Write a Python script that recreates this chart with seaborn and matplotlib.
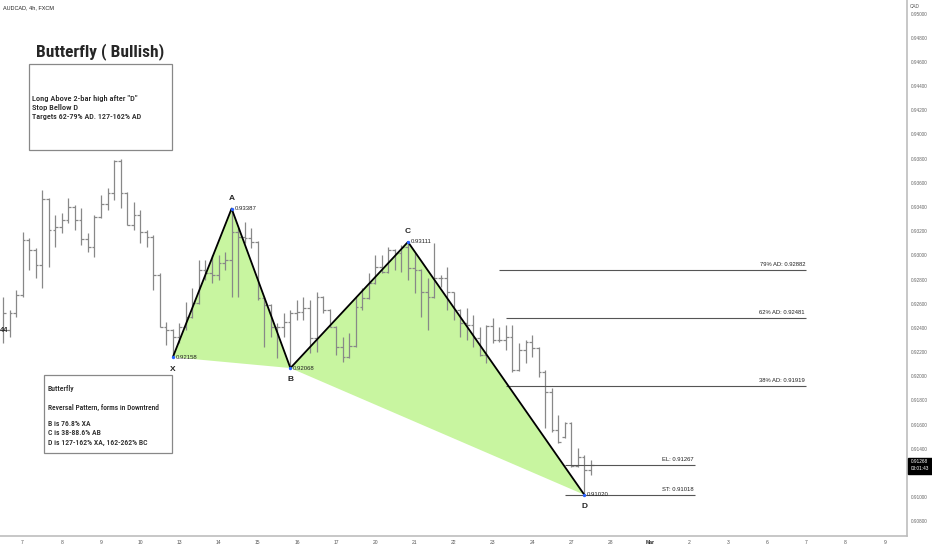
import os
import matplotlib
matplotlib.use('Agg')
import matplotlib.pyplot as plt
import matplotlib.font_manager as fm
from matplotlib.patches import Rectangle
import numpy as np
import seaborn as sns

# ---- data (AUDCAD 4h) ----
bar_open = [0.92383, 0.92383, 0.92524, 0.92672, 0.93127, 0.93045, 0.92920, 0.93466, 0.93210, 0.93235,
            0.93293, 0.93400, 0.93293, 0.93135, 0.93069, 0.93317, 0.93425, 0.93516, 0.93781, 0.93516,
            0.93251, 0.93334, 0.93193, 0.93152, 0.92838, 0.92408, 0.92383, 0.92325, 0.92408, 0.92490,
            0.92606, 0.92879, 0.92854, 0.92838, 0.92937, 0.92962, 0.93193, 0.93152, 0.93144, 0.93110,
            0.92647, 0.92590, 0.92408, 0.92408, 0.92449, 0.92524, 0.92532, 0.92565, 0.92317, 0.92656,
            0.92548, 0.92408, 0.92242, 0.92160, 0.92251, 0.92573, 0.92647, 0.92771, 0.92904, 0.92863,
            0.93045, 0.93020, 0.93069, 0.92896, 0.92879, 0.92697, 0.92656, 0.92813, 0.92813, 0.92697,
            0.92548, 0.92441, 0.92424, 0.92317, 0.92176, 0.92416, 0.92300, 0.92300, 0.92325, 0.92053,
            0.92217, 0.92284, 0.92234, 0.92036, 0.91870, 0.91556, 0.91498, 0.91614, 0.91258, 0.91333,
            0.91225]
bar_high = [0.92656, 0.92548, 0.92714, 0.93193, 0.93144, 0.93061, 0.93541, 0.93475, 0.93334, 0.93351,
            0.93475, 0.93417, 0.93392, 0.93185, 0.93334, 0.93499, 0.93557, 0.93789, 0.93797, 0.93520,
            0.93441, 0.93375, 0.93210, 0.93168, 0.92854, 0.92449, 0.92391, 0.92441, 0.92614, 0.92730,
            0.92962, 0.92962, 0.93003, 0.93003, 0.93028, 0.93387, 0.93226, 0.93276, 0.93226, 0.93120,
            0.92655, 0.92600, 0.92441, 0.92524, 0.92548, 0.92631, 0.92656, 0.92631, 0.92697, 0.92660,
            0.92555, 0.92415, 0.92325, 0.92358, 0.92656, 0.92730, 0.92854, 0.93003, 0.93003, 0.93069,
            0.93050, 0.93086, 0.93111, 0.93020, 0.92885, 0.92813, 0.93102, 0.92838, 0.92904, 0.92700,
            0.92555, 0.92565, 0.92507, 0.92408, 0.92424, 0.92482, 0.92408, 0.92424, 0.92424, 0.92275,
            0.92300, 0.92342, 0.92242, 0.92053, 0.91903, 0.91680, 0.91622, 0.91622, 0.91407, 0.91349,
            0.91308]
bar_low = [0.92275, 0.92325, 0.92490, 0.92656, 0.92879, 0.92813, 0.92730, 0.92904, 0.93069, 0.93185,
           0.93268, 0.93210, 0.93086, 0.93028, 0.92987, 0.93310, 0.93375, 0.93458, 0.93392, 0.93251,
           0.93210, 0.93102, 0.93069, 0.92714, 0.92408, 0.92259, 0.92158, 0.92275, 0.92383, 0.92482,
           0.92598, 0.92796, 0.92771, 0.92796, 0.92879, 0.92656, 0.92656, 0.93102, 0.93061, 0.92631,
           0.92242, 0.92325, 0.92151, 0.92325, 0.92068, 0.92466, 0.92466, 0.92192, 0.92201, 0.92524,
           0.92408, 0.92176, 0.92118, 0.92150, 0.92242, 0.92548, 0.92640, 0.92765, 0.92854, 0.92854,
           0.92879, 0.92863, 0.92796, 0.92689, 0.92490, 0.92383, 0.92647, 0.92738, 0.92548, 0.92466,
           0.92325, 0.92300, 0.92242, 0.92170, 0.92110, 0.92275, 0.92284, 0.92217, 0.92036, 0.92045,
           0.92110, 0.92160, 0.91994, 0.91572, 0.91539, 0.91448, 0.91490, 0.91250, 0.91250, 0.91020,
           0.91184]
bar_close = [0.92524, 0.92524, 0.92672, 0.93127, 0.93045, 0.92920, 0.93466, 0.93210, 0.93235, 0.93293,
             0.93400, 0.93293, 0.93135, 0.93069, 0.93317, 0.93425, 0.93516, 0.93781, 0.93516, 0.93251,
             0.93334, 0.93193, 0.93152, 0.92838, 0.92408, 0.92383, 0.92325, 0.92408, 0.92490, 0.92606,
             0.92879, 0.92854, 0.92838, 0.92937, 0.92962, 0.93193, 0.93152, 0.93144, 0.93110, 0.92647,
             0.92590, 0.92408, 0.92408, 0.92449, 0.92524, 0.92532, 0.92565, 0.92317, 0.92656, 0.92548,
             0.92408, 0.92242, 0.92160, 0.92251, 0.92573, 0.92647, 0.92771, 0.92904, 0.92863, 0.93045,
             0.93020, 0.93069, 0.92896, 0.92879, 0.92697, 0.92656, 0.92813, 0.92813, 0.92697, 0.92548,
             0.92441, 0.92424, 0.92317, 0.92176, 0.92416, 0.92300, 0.92300, 0.92325, 0.92053, 0.92217,
             0.92284, 0.92234, 0.92036, 0.91870, 0.91556, 0.91457, 0.91614, 0.91258, 0.91333, 0.91225,
             0.91268]

day_bars = [3, 9, 15, 21, 27, 33, 39, 45, 51, 57, 63, 69, 75, 81, 87, 93, 99, 105, 111, 117, 123, 129, 135]
day_labels = ['7', '8', '9', '10', '13', '14', '15', '16', '17', '20', '21', '22', '23', '24', '27', '28',
              'Mar', '2', '3', '6', '7', '8', '9']

pattern_names = ['X', 'A', 'B', 'C', 'D']
pattern_bars = [26, 35, 44, 62, 89]
pattern_prices = [0.92158, 0.93387, 0.92068, 0.93111, 0.91020]

level_labels = ['79% AD: 0.92882', '62% AD: 0.92481', '38% AD: 0.91919', 'EL: 0.91267', 'ST: 0.91018']
level_prices = [0.92882, 0.92481, 0.91919, 0.91267, 0.91018]
level_start = [76, 77, 77, 86, 86]
level_end = [123, 123, 123, 106, 106]

price_ticks = [0.908, 0.910, 0.912, 0.914, 0.916, 0.918, 0.920, 0.922, 0.924, 0.926, 0.928,
               0.930, 0.932, 0.934, 0.936, 0.938, 0.940, 0.942, 0.944, 0.946, 0.948, 0.950]
last_price = 0.91268

# ---- style ----
sns.set_style('white')
plt.rcParams['font.family'] = ['Liberation Sans', 'DejaVu Sans']


def pick_font(candidates, fallback_weight):
    files = {os.path.basename(f.fname): f.fname for f in fm.fontManager.ttflist}
    for c in candidates:
        if c in files:
            return fm.FontProperties(fname=files[c])
    return fm.FontProperties(family='Liberation Sans', weight=fallback_weight)


title_font = pick_font(['RobotoCondensed-Bold.ttf', 'LiberationSansNarrow-Bold.ttf',
                        'DejaVuSansCondensed-Bold.ttf', 'Roboto-Bold.ttf'], 'bold')
note_font = pick_font(['RobotoCondensed-Medium.ttf', 'RobotoCondensed-Regular.ttf',
                       'LiberationSansNarrow-Regular.ttf', 'DejaVuSansCondensed.ttf'], 'normal')

W, H = 932, 550
fig = plt.figure(figsize=(W / 100, H / 100), dpi=100)
ax = fig.add_axes([0, 14 / H, 907 / W, 536 / H])
renderer = fig.canvas.get_renderer()


def fx(px):
    return px / W


def fy(py):
    return 1 - py / H


def fit_width(txt, size, max_px):
    # shrink a text until it is no wider than max_px
    txt.set_fontsize(size)
    w = txt.get_window_extent(renderer).width
    if w > max_px:
        txt.set_fontsize(size * max_px / w)
    return txt


bar_color = '#888888'
idx = np.arange(len(bar_open))

# harmonic pattern fill
ax.fill(pattern_bars[0:3], pattern_prices[0:3], color='#c8f5a0', lw=0, zorder=1)
ax.fill(pattern_bars[2:5], pattern_prices[2:5], color='#c8f5a0', lw=0, zorder=1)

# ohlc bars
ax.vlines(idx, bar_low, bar_high, color=bar_color, lw=0.9, zorder=2)
ax.hlines(bar_open, idx - 0.42, idx, color=bar_color, lw=0.9, zorder=2)
ax.hlines(bar_close, idx, idx + 0.42, color=bar_color, lw=0.9, zorder=2)

# pattern legs
sns.lineplot(x=pattern_bars, y=pattern_prices, sort=False, color='black', lw=1.3, ax=ax, zorder=4)
ax.scatter(pattern_bars, pattern_prices, s=2, color='#2962ff', zorder=5)

for name, b, p in zip(pattern_names, pattern_bars, pattern_prices):
    up = name in ('A', 'C')
    ax.annotate(name, (b, p), xytext=(0, 5 if up else -6), textcoords='offset points',
                ha='center', va='bottom' if up else 'top', fontsize=6, fontweight='bold', zorder=6)
    ax.annotate('%.5f' % p, (b, p), xytext=(2, 0), textcoords='offset points',
                ha='left', va='center', fontsize=4.3, color='#222222', zorder=6)

# target / stop levels
for lab, p, s, e in zip(level_labels, level_prices, level_start, level_end):
    ax.hlines(p, s, e, color='#555555', lw=0.8, zorder=3)
    ax.annotate(lab, (e, p), xytext=(-1, 2), textcoords='offset points',
                ha='right', va='bottom', fontsize=4.2, color='#222222')

# axes
ax.set_xlim(-0.46, 138.4)
ax.set_ylim(0.90679, 0.95112)
ax.set_xticks(day_bars)
ax.set_xticklabels(day_labels, fontsize=3.6, color='#555555')
for t in ax.get_xticklabels():
    if t.get_text() == 'Mar':
        t.set_fontweight('bold')
        t.set_color('#222222')
ax.yaxis.tick_right()
ax.set_yticks(price_ticks)
ax.set_yticklabels(['%.5f' % v for v in price_ticks], fontsize=3.4, color='#666666')
ax.tick_params(axis='both', length=0, pad=3)
for side in ('top', 'left'):
    ax.spines[side].set_visible(False)
for side in ('right', 'bottom'):
    ax.spines[side].set_color('#bdbdbd')
    ax.spines[side].set_linewidth(1.2)

# header texts
fig.text(fx(3), fy(8), 'AUDCAD, 4h, FXCM', fontsize=4, va='center', ha='left', color='#222222')
fig.text(fx(910), fy(6), 'CAD', fontsize=3.4, va='center', ha='left', color='#555555')
fig.text(fx(0), fy(330), '44', fontsize=5.5, fontweight='bold', va='center', ha='left')

title = fig.text(fx(100), fy(52), 'Butterfly ( Bullish)', fontproperties=title_font, ha='center', va='center')
fit_width(title, 20, 128)

# note boxes
fig.add_artist(Rectangle((fx(29), fy(150)), fx(143), 86 / H, fill=False, ec='#888888', lw=0.9))
box1 = [('Long Above 2-bar high after "D"', 107), ('Stop Bellow D', 999), ('Targets 62-79% AD. 127-162% AD', 110)]
for i, (line, maxw) in enumerate(box1):
    t = fig.text(fx(32), fy(99 + 8.6 * i), line, fontproperties=note_font, va='center', ha='left')
    fit_width(t, 6.0, maxw)

fig.add_artist(Rectangle((fx(44), fy(453)), fx(128), 78 / H, fill=False, ec='#888888', lw=0.9))
box2 = [('Butterfly', 389, 999), ('Reversal Pattern, forms in Downtrend', 407, 111), ('B is 76.8% XA', 423, 999),
        ('C is 38-88.6% AB', 432.5, 999), ('D is 127-162% XA, 162-262% BC', 442, 101)]
for line, py, maxw in box2:
    t = fig.text(fx(48), fy(py), line, fontproperties=note_font, va='center', ha='left')
    fit_width(t, 5.6, maxw)

# last price tag
y_last = ax.transData.transform((0, last_price))[1]
fig.add_artist(Rectangle((fx(908), (y_last - 9) / H), fx(24), 16 / H, color='black'))
fig.text(fx(911), (y_last + 3) / H, '%.5f' % last_price, fontsize=3.4, color='white', va='center', ha='left')
fig.text(fx(911), (y_last - 4) / H, '03:01:43', fontsize=3.4, color='white', va='center', ha='left')

fig.savefig('out.png', dpi=100)
